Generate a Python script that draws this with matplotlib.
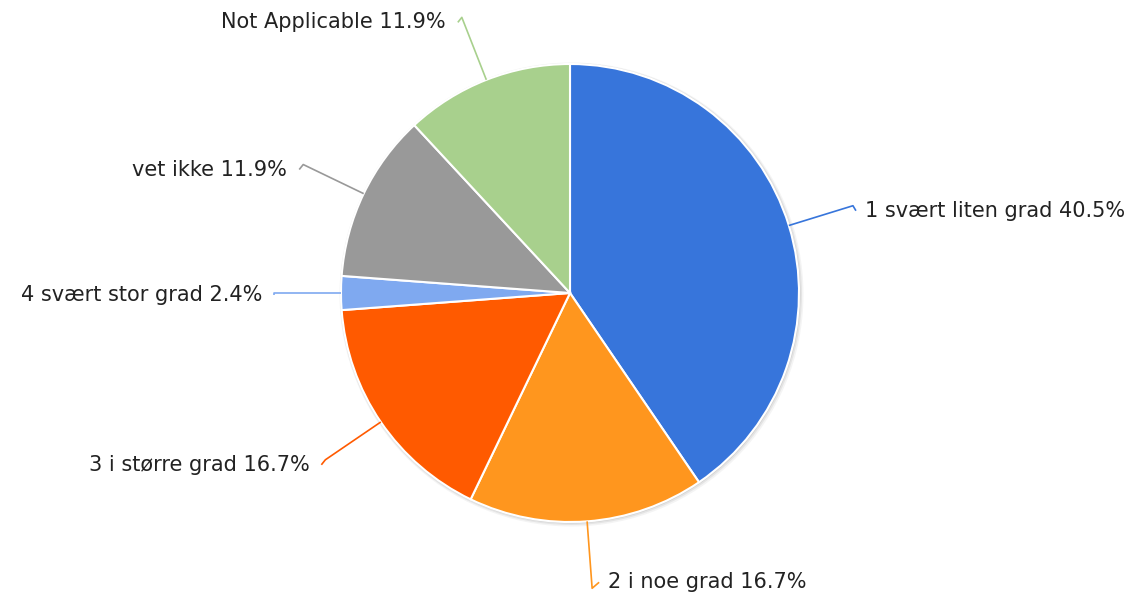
import numpy as np
import matplotlib.pyplot as plt
from matplotlib.patches import Circle

labels = ["1 svært liten grad", "2 i noe grad", "3 i større grad",
          "4 svært stor grad", "vet ikke", "Not Applicable"]
counts = [17, 7, 7, 1, 5, 5]
colors = ["#3775db", "#ff961e", "#ff5a00", "#7fa9f0", "#999999", "#a8d08d"]

plt.rcParams["font.family"] = ["DejaVu Sans"]

W, H = 1134, 596
fig = plt.figure(figsize=(W / 100, H / 100), dpi=100)
ax = fig.add_axes([0, 0, 1, 1])

cx, cy, R = 570, H - 293, 229

# soft shadow around the pie
for off, a in [(3, 0.08), (2, 0.12), (1, 0.18)]:
    ax.add_patch(Circle((cx + off * 0.5, cy - off * 0.5), R + off, color="#777777",
                        alpha=a, lw=0, zorder=0))

wedges, _ = ax.pie(counts, colors=colors, startangle=90, counterclock=False,
                   center=(cx, cy), radius=R, frame=True,
                   wedgeprops=dict(edgecolor="white", linewidth=1.5))
ax.set_xlim(0, W)
ax.set_ylim(0, H)
ax.set_aspect("equal")
ax.axis("off")

total = sum(counts)
cum = np.cumsum([0] + counts)
for i, (lab, n) in enumerate(zip(labels, counts)):
    frac = (cum[i] + n / 2) / total
    th = 2 * np.pi * frac  # clockwise from 12 o'clock
    sx, sy = np.sin(th), np.cos(th)
    p0 = (cx + R * sx, cy + R * sy)
    p1 = (cx + 1.293 * R * sx, cy + 1.293 * R * sy)
    bottom = sy < -0.95
    right = sx > 0.05 or bottom
    if abs(sy) < 0.05:
        ty, dx = p1[1] - 2, 0
    elif bottom:
        ty, dx = p1[1] + 6, 7
    else:
        ty, dx = p1[1] - 5, (3 if right else -4)
    p2 = (p1[0] + dx, ty)
    ax.plot([p0[0], p1[0], p2[0]], [p0[1], p1[1], p2[1]], color=colors[i], lw=1.2,
            solid_capstyle="butt", zorder=1)
    txt = f"{lab} {100 * n / total:.1f}%"
    if right:
        ax.text(p2[0] + 9, ty, txt, ha="left", va="center", fontsize=15,
                color="#222222")
    else:
        ax.text(p2[0] - 12, ty, txt, ha="right", va="center", fontsize=15,
                color="#222222")

fig.savefig("out.png", dpi=100, facecolor="white")
